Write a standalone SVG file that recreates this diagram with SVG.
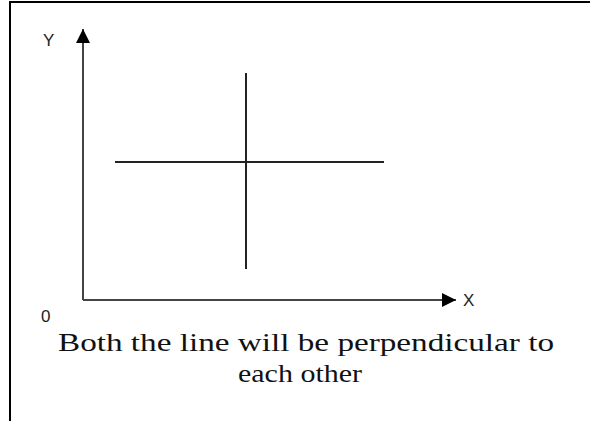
<svg xmlns="http://www.w3.org/2000/svg" width="590" height="421" viewBox="0 0 590 421">
<style>
.frame{stroke:#000;stroke-width:2;fill:none}
.axis{stroke:#444;stroke-width:2;fill:none}
.ln{stroke:#222;stroke-width:2;fill:none}
.lbl{font-family:"Liberation Sans","DejaVu Sans",sans-serif;font-size:17px;fill:#222}
.cap{font-family:"Liberation Serif","DejaVu Serif",serif;font-size:25px;fill:#111;text-anchor:middle}
</style>
<defs>
<marker id="arr" viewBox="0 0 10 10" refX="10" refY="5" markerWidth="14" markerHeight="14" markerUnits="userSpaceOnUse" orient="auto">
<path d="M0,0 L10,5 L0,10 Z" fill="#000"/>
</marker>
</defs>
<g id="frame">
<path class="frame" d="M10,421 V2 H590"/>
</g>
<g id="connectors">
<path class="axis" d="M83,300 V29" marker-end="url(#arr)"/>
<path class="axis" d="M83,300 H456" marker-end="url(#arr)"/>
<line class="ln" x1="115" y1="162" x2="384" y2="162"/>
<line class="ln" x1="246" y1="73" x2="246" y2="269"/>
</g>
<g id="labels">
<text class="lbl" x="43" y="46">Y</text>
<text class="lbl" x="463" y="306">X</text>
<text class="lbl" x="41" y="322">0</text>
</g>
<g id="caption">
<text class="cap" x="306" y="351" textLength="496" lengthAdjust="spacingAndGlyphs">Both the line will be perpendicular to</text>
<text class="cap" x="300" y="382" textLength="124" lengthAdjust="spacingAndGlyphs">each other</text>
</g>
</svg>
